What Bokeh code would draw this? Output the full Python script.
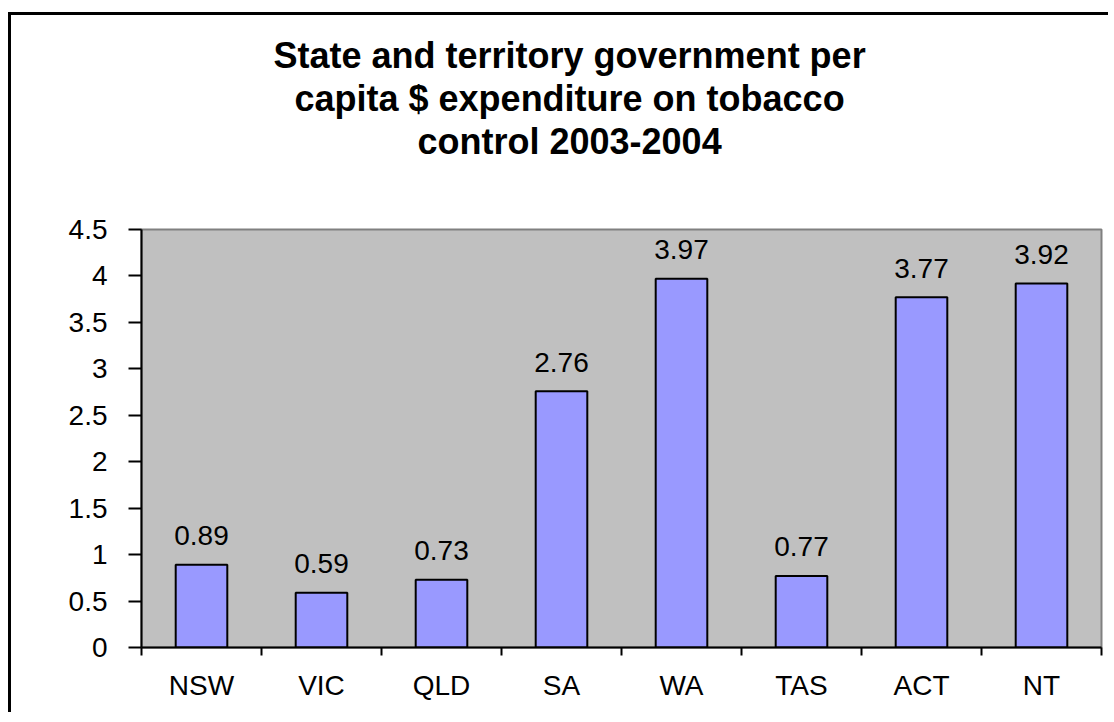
from bokeh.plotting import figure
from bokeh.models import Range1d, FixedTicker, NumeralTickFormatter, ColumnDataSource, Title
from bokeh.embed import file_html
from bokeh.resources import INLINE
from bokeh.core.properties import value

# ---- data ----
states = ["NSW", "VIC", "QLD", "SA", "WA", "TAS", "ACT", "NT"]
spend = [0.89, 0.59, 0.73, 2.76, 3.97, 0.77, 3.77, 3.92]
value_labels = ["0.89", "0.59", "0.73", "2.76", "3.97", "0.77", "3.77", "3.92"]
y_ticks = [0, 0.5, 1, 1.5, 2, 2.5, 3, 3.5, 4, 4.5]
title_lines = [
    "State and territory government per",
    "capita $ expenditure on tobacco",
    "control 2003-2004",
]
# horizontal offsets of the title lines from the frame's left edge (px)
title_offsets = [132, 153, 276]

xpos = [i + 0.5 for i in range(len(states))]
bounds = list(range(len(states) + 1))
src = ColumnDataSource(dict(x=xpos, top=spend, label=value_labels))

p = figure(width=1100, height=700, output_backend="svg", toolbar_location=None,
           x_range=Range1d(0, len(states)), y_range=Range1d(0, 4.5),
           min_border_left=130, min_border_right=10, min_border_top=214, min_border_bottom=68)
p.styles = {"border-left": "3px solid black", "border-top": "3px solid black",
            "margin-top": "12px", "margin-left": "8px"}

p.title.text = ""
p.title.visible = False
# blank spacer between the title block and the plot area
p.add_layout(Title(text=" ", text_font="Liberation Sans", text_font_size="36px",
                   standoff=25), "above")
# stack title lines, nearest to the frame first
for line, off in zip(reversed(title_lines), reversed(title_offsets)):
    t = Title(text=line, align="left", text_font="Liberation Sans",
              text_font_style="bold", text_font_size="36px", text_color="black",
              standoff=0, offset=off)
    p.add_layout(t, "above")

p.background_fill_color = "#C0C0C0"
p.border_fill_color = "white"
p.outline_line_color = "#808080"
p.outline_line_width = 2
p.grid.visible = False

p.vbar(x="x", top="top", width=0.43, source=src, fill_color="#9999FF",
       line_color="black", line_width=2)
p.text(x="x", y="top", text="label", source=src, text_align="center",
       text_baseline="alphabetic", y_offset=-29, text_font=value("Liberation Sans"),
       text_font_size="28px", text_color="black")

xa = p.xaxis[0]
xa.ticker = FixedTicker(ticks=xpos, minor_ticks=bounds)
xa.major_label_overrides = {x: s for x, s in zip(xpos, states)}
xa.major_tick_out = 0
xa.major_tick_in = 0
xa.minor_tick_out = 8
xa.minor_tick_in = 0
xa.minor_tick_line_color = "black"
xa.minor_tick_line_width = 2
xa.axis_line_color = "black"
xa.axis_line_width = 2
xa.major_label_standoff = 14
xa.major_label_text_font = "Liberation Sans"
xa.major_label_text_font_size = "28px"
xa.major_label_text_color = "black"

ya = p.yaxis[0]
ya.ticker = FixedTicker(ticks=y_ticks)
ya.formatter = NumeralTickFormatter(format="0.[0]")
ya.major_tick_out = 13
ya.major_tick_in = 0
ya.major_tick_line_color = "black"
ya.major_tick_line_width = 2
ya.minor_tick_out = 0
ya.minor_tick_in = 0
ya.axis_line_color = "black"
ya.axis_line_width = 2
ya.major_label_standoff = 21
ya.major_label_text_font = "Liberation Sans"
ya.major_label_text_font_size = "28px"
ya.major_label_text_color = "black"

open("out.html", "w").write(file_html(p, INLINE))
